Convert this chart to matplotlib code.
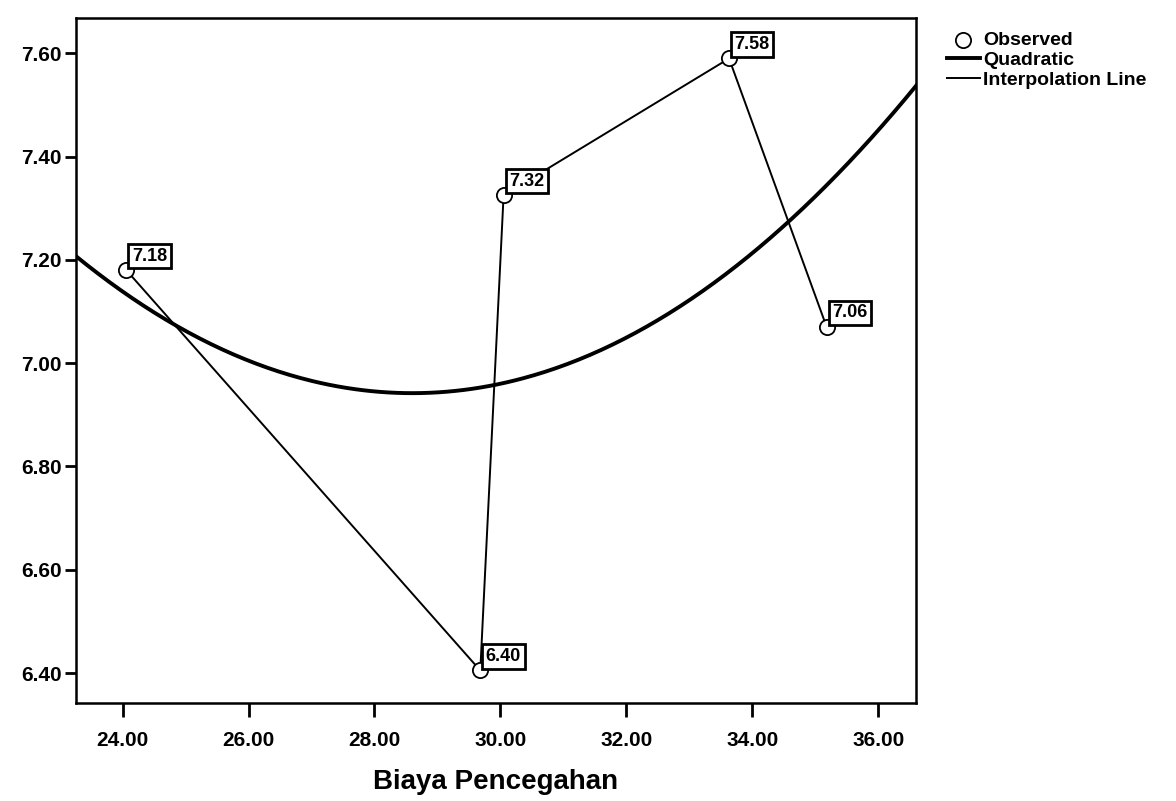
import matplotlib.pyplot as plt
import numpy as np

plt.rcParams['font.family'] = ['Liberation Sans', 'DejaVu Sans']

# observed points (Biaya Pencegahan vs value)
obsX = [24.06, 29.68, 30.05, 33.63, 35.18]
obsY = [7.18, 6.405, 7.325, 7.59, 7.07]
obsLabels = ['7.18', '6.40', '7.32', '7.58', '7.06']

# quadratic fit in vertex form: y = a*(x-h)^2 + k
quadA = 0.0093
quadH = 28.6
quadK = 6.942

xTicks = [24, 26, 28, 30, 32, 34, 36]
yTicks = [6.4, 6.6, 6.8, 7.0, 7.2, 7.4, 7.6]
xLim = (23.26, 36.6)
yLim = (6.342, 7.668)

fig = plt.figure(figsize=(11.76, 8.01), dpi=100)
ax = fig.add_axes([0.0646, 0.1223, 0.7144, 0.855])

xs = np.linspace(xLim[0], xLim[1], 300)
ax.plot(xs, quadA * (xs - quadH) ** 2 + quadK, color='black', lw=2.8, label='Quadratic', zorder=2)
ax.plot(obsX, obsY, color='black', lw=1.4, label='Interpolation Line', zorder=2)
ax.scatter(obsX, obsY, s=120, facecolors='white', edgecolors='black', linewidths=1.3,
           label='Observed', zorder=3)

for x, y, lab in zip(obsX, obsY, obsLabels):
    ax.annotate(lab, (x, y), xytext=(4, 4), textcoords='offset points',
                ha='left', va='bottom', fontsize=13, fontweight='bold',
                bbox=dict(boxstyle='square,pad=0.2', fc='white', ec='black', lw=2), zorder=4)

ax.set_xlim(*xLim)
ax.set_ylim(*yLim)
ax.set_xticks(xTicks)
ax.set_xticklabels([f'{t:.2f}' for t in xTicks])
ax.set_yticks(yTicks)
ax.set_yticklabels([f'{t:.2f}' for t in yTicks])
ax.tick_params(axis='y', direction='out', length=8, width=2, labelsize=15, pad=2)
ax.tick_params(axis='x', direction='out', length=10, width=2, labelsize=15, pad=10)
for lab in ax.get_xticklabels() + ax.get_yticklabels():
    lab.set_fontweight('bold')
for sp in ax.spines.values():
    sp.set_linewidth(1.8)

ax.set_xlabel('Biaya Pencegahan', fontsize=20, fontweight='bold', labelpad=14)

handles, labels = ax.get_legend_handles_labels()
order = [2, 0, 1]
leg = ax.legend([handles[i] for i in order], [labels[i] for i in order],
                loc='upper left', bbox_to_anchor=(1.02, 1.0), frameon=False,
                prop={'size': 14, 'weight': 'bold'}, handlelength=1.7,
                handletextpad=0.2, labelspacing=0.1, borderaxespad=0.3)

plt.savefig('out.png', dpi=100)
